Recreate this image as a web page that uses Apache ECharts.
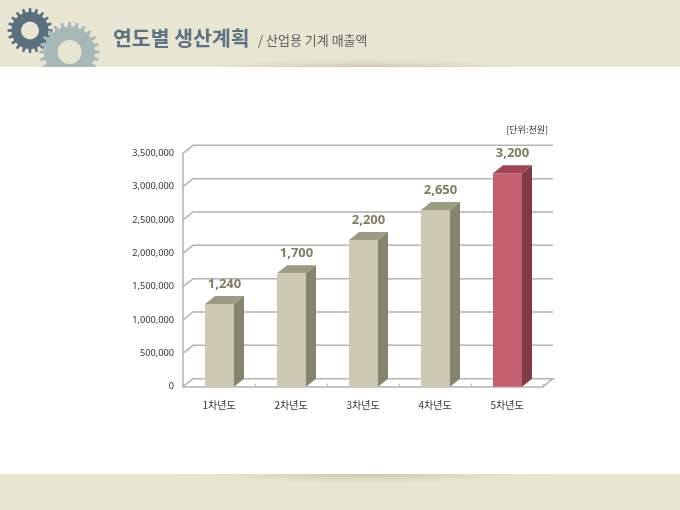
<!DOCTYPE html>
<html><head><meta charset="utf-8">
<style>html,body{margin:0;padding:0;background:#fff}#c{width:680px;height:510px}</style>
<script src="https://cdn.jsdelivr.net/npm/echarts@6/dist/echarts.min.js"></script>
</head><body><div id="c"></div>
<script>
const categories = ['1차년도','2차년도','3차년도','4차년도','5차년도'];
const values = [1240000,1700000,2200000,2650000,3200000];
const yTicks = [0,500000,1000000,1500000,2000000,2500000,3000000,3500000];
const titleText = '연도별 생산계획';
const subtitleText = '/ 산업용 기계 매출액';
const unitText = '[단위:천원]';

const FONT = '"Noto Sans CJK KR","Noto Sans",sans-serif';
const DX = 10, DY = 8, BAR_W = 29, HIGHLIGHT = 4;
const BG = '#e8e6d2', LINE = '#b3b3b0';
const NORMAL = {front:'#cdc8b1', side:'#86836f', top:'#9c9a82'};
const RED = {front:'#c45f6d', side:'#7e3a46', top:'#9e4654'};

function gearPoints(cx, cy, rOut, rIn, teeth){
  const pts = [], step = Math.PI*2/teeth;
  for(let i=0;i<teeth;i++){
    const a = i*step;
    [[-0.27,rIn],[-0.16,rOut],[0.16,rOut],[0.27,rIn]].forEach(p=>{
      const t = a + p[0]*step;
      pts.push([cx+p[1]*Math.cos(t), cy+p[1]*Math.sin(t)]);
    });
  }
  return pts;
}
function glow(cx, cy, rx, ry, z){
  return {type:'circle', x:cx, y:cy, scaleX:rx/ry, scaleY:1, z:z, silent:true,
    shape:{cx:0, cy:0, r:ry},
    style:{fill:{type:'radial', x:0.5, y:0.5, r:0.5, colorStops:[
      {offset:0, color:'rgba(195,190,155,0.9)'},
      {offset:0.5, color:'rgba(215,208,182,0.5)'},
      {offset:1, color:'rgba(232,230,210,0)'}]}}};
}

const chart = echarts.init(document.getElementById('c'), null, {renderer:'canvas', width:680, height:510});
chart.setOption({
  animation:false,
  backgroundColor:'#fff',
  graphic:{elements:[
    {type:'rect', z:-20, silent:true, shape:{x:0,y:0,width:680,height:67}, style:{fill:BG}},
    {type:'rect', z:-20, silent:true, shape:{x:0,y:474,width:680,height:36}, style:{fill:BG}},
    glow(365,68,195,11,-19),
    glow(365,473,215,13,-19),
    {type:'polygon', z:-18, silent:true, shape:{points:gearPoints(30,30.5,22.5,18.5,20)}, style:{fill:'#5a707f'}},
    {type:'circle', z:-18, silent:true, shape:{cx:30,cy:30.5,r:9}, style:{fill:BG}},
    {type:'polygon', z:-17, silent:true, shape:{points:gearPoints(69.5,52,30,25.5,24)}, style:{fill:'#a8b7b8'}},
    {type:'circle', z:-17, silent:true, shape:{cx:69.5,cy:52,r:12}, style:{fill:BG}},
    {type:'rect', z:-16, silent:true, shape:{x:0,y:67,width:680,height:407}, style:{fill:'#fff'}},
    {type:'text', z:5, silent:true, x:113, y:38, style:{text:titleText, font:'bold 20.5px '+FONT, fill:'#5c7280', textVerticalAlign:'middle'}},
    {type:'text', z:5, silent:true, x:258, y:40.5, style:{text:subtitleText, font:'13px '+FONT, fill:'#5a5f5f', textVerticalAlign:'middle'}},
    {type:'text', z:5, silent:true, x:548, y:129.5, style:{text:unitText, font:'9px '+FONT, fill:'#333', textAlign:'right', textVerticalAlign:'middle'}}
  ]},
  grid:{left:183, right:137, top:153.3, bottom:123.3, containLabel:false},
  xAxis:{type:'category', data:categories, boundaryGap:true,
    axisLine:{show:true, lineStyle:{color:LINE, width:1.5}},
    axisTick:{show:true, inside:true, length:3, alignWithLabel:false, lineStyle:{color:LINE}},
    axisLabel:{margin:14, fontSize:10, color:'#333', fontFamily:FONT},
    splitLine:{show:false}},
  yAxis:{type:'value', min:0, max:3500000, interval:500000,
    axisLine:{show:true, lineStyle:{color:LINE, width:1.5}},
    axisTick:{show:false},
    axisLabel:{margin:9, fontSize:9.2, color:'#333', fontFamily:'"Noto Sans",sans-serif',
      formatter:v=>v.toLocaleString('en-US')},
    splitLine:{show:false}},
  series:[
    {type:'custom', z:1, silent:true, clip:false, data:yTicks.map(v=>[0,v]),
      renderItem(params, api){
        const y = api.coord([0, api.value(1)])[1];
        const cs = params.coordSys;
        const pts = [[cs.x,y],[cs.x+DX,y-DY],[cs.x+cs.width+DX,y-DY]];
        if(api.value(1)===0) pts.push([cs.x+cs.width,y]);
        return {type:'polyline', shape:{points:pts}, style:{stroke:LINE, lineWidth:1.5, fill:null}};
      }},
    {type:'custom', z:3, silent:true, clip:false,
      data:values.map((v,i)=>[i,v]),
      renderItem(params, api){
        const i = api.value(0), v = api.value(1);
        const top = api.coord([i,v]), base = api.coord([i,0]);
        const l = top[0]-BAR_W/2+0.5, r = l+BAR_W;
        const c = i===HIGHLIGHT ? RED : NORMAL;
        return {type:'group', children:[
          {type:'polygon', shape:{points:[[r,top[1]],[r+DX,top[1]-DY],[r+DX,base[1]-DY],[r,base[1]]]}, style:{fill:c.side}},
          {type:'polygon', shape:{points:[[l,top[1]],[l+DX,top[1]-DY],[r+DX,top[1]-DY],[r,top[1]]]}, style:{fill:c.top}},
          {type:'rect', shape:{x:l,y:top[1],width:BAR_W,height:base[1]-top[1]}, style:{fill:c.front}},
          {type:'text', x:l+BAR_W/2+DX/2, y:top[1]-DY-12, style:{
            text:(v/1000).toLocaleString('en-US'), font:'bold 13px "Noto Sans",sans-serif', fill:'#7f7c5f',
            textAlign:'center', textVerticalAlign:'middle'}}
        ]};
      }}
  ]
});
</script></body></html>
